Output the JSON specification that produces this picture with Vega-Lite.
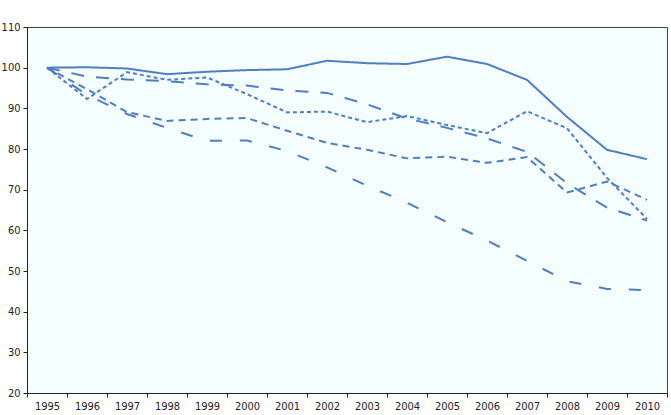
{
  "$schema": "https://vega.github.io/schema/vega-lite/v6.json",
  "width": 640,
  "height": 366,
  "autosize": "none",
  "padding": {"left": 27, "top": 27, "right": 4, "bottom": 22},
  "background": "white",
  "config": {
    "view": {"stroke": "#444", "strokeWidth": 1, "fill": "#f4fdff"},
    "axis": {
      "labelFont": "DejaVu Sans Condensed",
      "labelFontSize": 11,
      "labelColor": "#222",
      "domainColor": "#222",
      "tickColor": "#222",
      "tickSize": 4,
      "grid": false,
      "title": null
    }
  },
  "data": {"values": [
    {"year": "1995", "s": "A", "v": 100}, {"year": "1996", "s": "A", "v": 100.1}, {"year": "1997", "s": "A", "v": 99.8}, {"year": "1998", "s": "A", "v": 98.4}, {"year": "1999", "s": "A", "v": 99.0}, {"year": "2000", "s": "A", "v": 99.4}, {"year": "2001", "s": "A", "v": 99.6}, {"year": "2002", "s": "A", "v": 101.7}, {"year": "2003", "s": "A", "v": 101.1}, {"year": "2004", "s": "A", "v": 100.9}, {"year": "2005", "s": "A", "v": 102.7}, {"year": "2006", "s": "A", "v": 100.9}, {"year": "2007", "s": "A", "v": 97.0}, {"year": "2008", "s": "A", "v": 87.9}, {"year": "2009", "s": "A", "v": 79.8}, {"year": "2010", "s": "A", "v": 77.5},
    {"year": "1995", "s": "B", "v": 100}, {"year": "1996", "s": "B", "v": 93.3}, {"year": "1997", "s": "B", "v": 88.6}, {"year": "1998", "s": "B", "v": 85.2}, {"year": "1999", "s": "B", "v": 82.0}, {"year": "2000", "s": "B", "v": 82.1}, {"year": "2001", "s": "B", "v": 79.5}, {"year": "2002", "s": "B", "v": 75.5}, {"year": "2003", "s": "B", "v": 71.0}, {"year": "2004", "s": "B", "v": 66.8}, {"year": "2005", "s": "B", "v": 62.0}, {"year": "2006", "s": "B", "v": 57.5}, {"year": "2007", "s": "B", "v": 52.5}, {"year": "2008", "s": "B", "v": 47.5}, {"year": "2009", "s": "B", "v": 45.6}, {"year": "2010", "s": "B", "v": 45.3},
    {"year": "1995", "s": "C", "v": 100}, {"year": "1996", "s": "C", "v": 97.8}, {"year": "1997", "s": "C", "v": 97.1}, {"year": "1998", "s": "C", "v": 96.7}, {"year": "1999", "s": "C", "v": 95.9}, {"year": "2000", "s": "C", "v": 95.6}, {"year": "2001", "s": "C", "v": 94.4}, {"year": "2002", "s": "C", "v": 93.8}, {"year": "2003", "s": "C", "v": 91.0}, {"year": "2004", "s": "C", "v": 87.5}, {"year": "2005", "s": "C", "v": 85.2}, {"year": "2006", "s": "C", "v": 82.6}, {"year": "2007", "s": "C", "v": 79.3}, {"year": "2008", "s": "C", "v": 71.6}, {"year": "2009", "s": "C", "v": 65.6}, {"year": "2010", "s": "C", "v": 62.4},
    {"year": "1995", "s": "D", "v": 100}, {"year": "1996", "s": "D", "v": 92.3}, {"year": "1997", "s": "D", "v": 98.9}, {"year": "1998", "s": "D", "v": 97.0}, {"year": "1999", "s": "D", "v": 97.6}, {"year": "2000", "s": "D", "v": 93.5}, {"year": "2001", "s": "D", "v": 89.0}, {"year": "2002", "s": "D", "v": 89.2}, {"year": "2003", "s": "D", "v": 86.6}, {"year": "2004", "s": "D", "v": 88.1}, {"year": "2005", "s": "D", "v": 85.9}, {"year": "2006", "s": "D", "v": 83.9}, {"year": "2007", "s": "D", "v": 89.3}, {"year": "2008", "s": "D", "v": 85.1}, {"year": "2009", "s": "D", "v": 72.9}, {"year": "2010", "s": "D", "v": 62.8},
    {"year": "1995", "s": "E", "v": 100}, {"year": "1996", "s": "E", "v": 94.7}, {"year": "1997", "s": "E", "v": 89.1}, {"year": "1998", "s": "E", "v": 86.9}, {"year": "1999", "s": "E", "v": 87.4}, {"year": "2000", "s": "E", "v": 87.6}, {"year": "2001", "s": "E", "v": 84.5}, {"year": "2002", "s": "E", "v": 81.5}, {"year": "2003", "s": "E", "v": 79.8}, {"year": "2004", "s": "E", "v": 77.7}, {"year": "2005", "s": "E", "v": 78.1}, {"year": "2006", "s": "E", "v": 76.6}, {"year": "2007", "s": "E", "v": 78.0}, {"year": "2008", "s": "E", "v": 69.3}, {"year": "2009", "s": "E", "v": 72.0}, {"year": "2010", "s": "E", "v": 67.5}
  ]},
  "mark": {"type": "line", "color": "#4f7fbf", "strokeWidth": 2},
  "encoding": {
    "x": {
      "field": "year",
      "type": "ordinal",
      "bandPosition": 0.5,
      "scale": {"type": "band", "paddingInner": 0, "paddingOuter": 0},
      "axis": {"labelAngle": 0, "tickBand": "extent", "labelPadding": 3}
    },
    "y": {
      "field": "v",
      "type": "quantitative",
      "scale": {"domain": [20, 110], "nice": false, "zero": false},
      "axis": {"values": [20, 30, 40, 50, 60, 70, 80, 90, 100, 110], "labelPadding": 3}
    },
    "strokeDash": {
      "field": "s",
      "type": "nominal",
      "scale": {"domain": ["A", "B", "C", "D", "E"], "range": [[1, 0], [12, 18], [13, 12], [4, 3], [7, 5]]},
      "legend": null
    }
  }
}
